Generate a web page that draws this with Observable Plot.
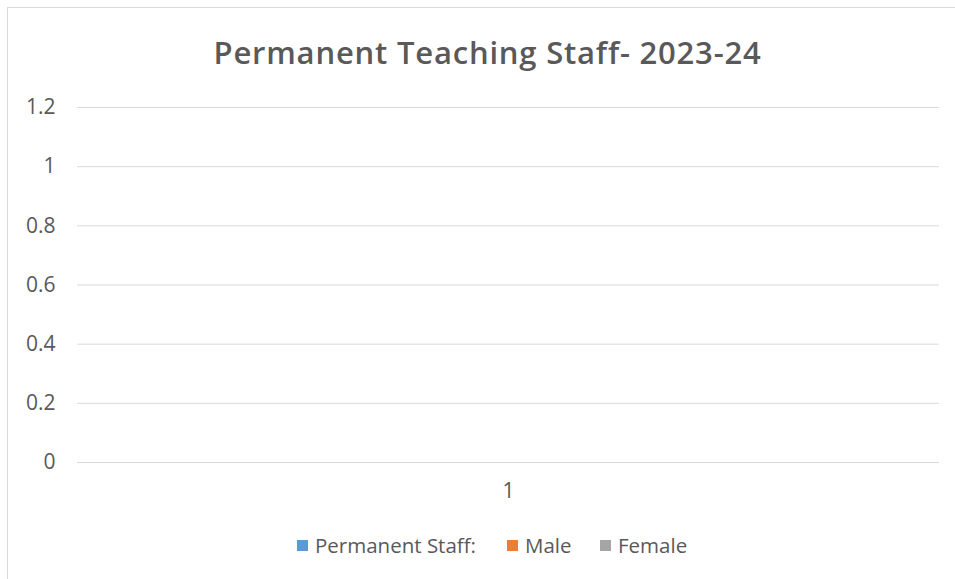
<!DOCTYPE html>
<html>
<head>
<meta charset="utf-8">
<script src="https://cdn.jsdelivr.net/npm/d3@7"></script>
<script src="https://cdn.jsdelivr.net/npm/@observablehq/plot@0.6"></script>
<style>
  html, body { margin: 0; padding: 0; background: #fff; }
  #wrap { position: relative; width: 955px; height: 579px; overflow: hidden; font-family: "Open Sans", sans-serif; }
  #frame { position: absolute; left: 7px; top: 7px; width: 1000px; height: 700px; border: 1.5px solid #d9d9d9; box-sizing: border-box; }
  #title { position: absolute; left: 0; width: 975px; top: 31px; text-align: center; font-size: 31px; font-weight: 600; color: #595959; letter-spacing: 0.8px; line-height: normal; white-space: nowrap; }
  #chart { position: absolute; left: 0; top: 0; }
  #legend { position: absolute; top: 531px; left: 0; width: 955px; height: 28px; }
  .item { position: absolute; top: 0; display: flex; align-items: center; font-size: 20.5px; color: #595959; white-space: nowrap; line-height: normal; }
  .sw { width: 11px; height: 11px; margin-right: 7px; }
</style>
</head>
<body>
<div id="wrap">
  <div id="frame"></div>
  <div id="chart"></div>
  <div id="title"></div>
  <div id="legend"></div>
</div>
<script>
const titleText = "Permanent Teaching Staff- 2023-24";
const categories = ["1"];
const seriesNames = ["Permanent Staff:", "Male", "Female"];
const seriesColors = ["#5b9bd5", "#ed7d31", "#a5a5a5"];
const permanentStaff = [0];
const male = [0];
const female = [0];
const yTicks = [0, 0.2, 0.4, 0.6, 0.8, 1, 1.2];
const legendLeft = [297, 507, 600];

document.getElementById("title").textContent = titleText;

const seriesValues = [permanentStaff, male, female];
const data = [];
categories.forEach((c, i) => {
  seriesNames.forEach((s, j) => data.push({category: c, series: s, value: seriesValues[j][i]}));
});

const chart = Plot.plot({
  width: 955,
  height: 579,
  marginTop: 107,
  marginBottom: 117,
  marginLeft: 77,
  marginRight: 16,
  style: {fontFamily: "Open Sans, sans-serif", fontSize: "21px", color: "#595959", background: "transparent"},
  fx: {domain: categories, padding: 0},
  x: {domain: seriesNames, axis: null, paddingInner: 0, paddingOuter: 1.5},
  y: {domain: [0, 1.2], axis: null},
  color: {domain: seriesNames, range: seriesColors},
  marks: [
    Plot.ruleY(yTicks, {y: d => d, stroke: "#d9d9d9", strokeWidth: 1}),
    Plot.barY(data, {fx: "category", x: "series", y: "value", fill: "series"}),
    Plot.axisY({ticks: yTicks, tickSize: 0, tickPadding: 22, tickFormat: d => String(d), fontSize: 21, label: null}),
    Plot.axisFx({anchor: "bottom", tickSize: 0, tickPadding: 21, label: null, fontSize: 21})
  ]
});
document.getElementById("chart").appendChild(chart);

const legend = document.getElementById("legend");
seriesNames.forEach((s, j) => {
  const item = document.createElement("div");
  item.className = "item";
  item.style.left = legendLeft[j] + "px";
  const sw = document.createElement("span");
  sw.className = "sw";
  sw.style.background = seriesColors[j];
  const t = document.createElement("span");
  t.textContent = s;
  item.appendChild(sw);
  item.appendChild(t);
  legend.appendChild(item);
});
</script>
</body>
</html>
